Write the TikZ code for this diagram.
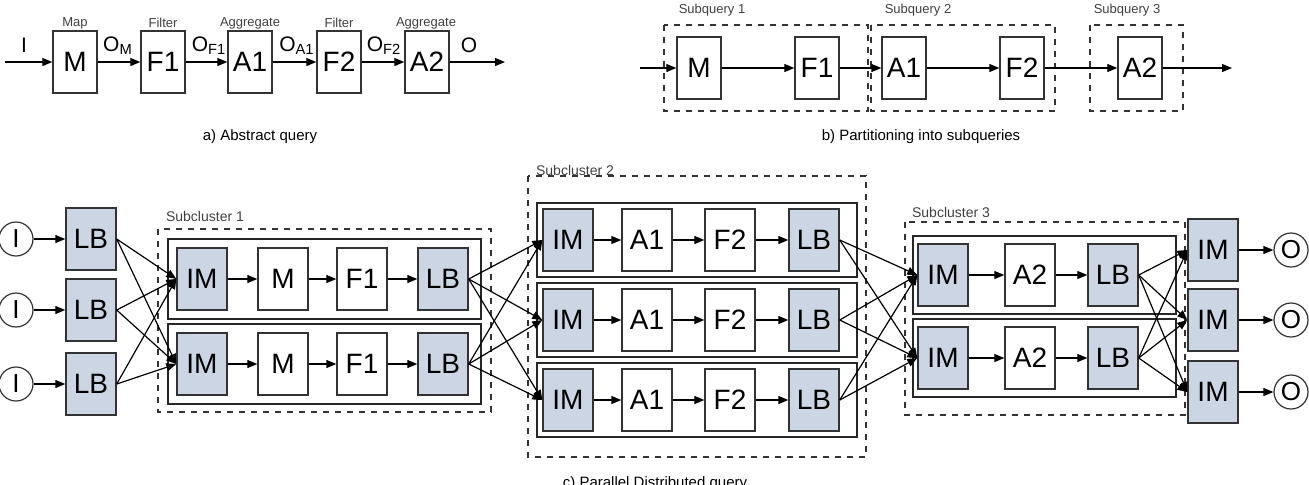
\documentclass[tikz,border=0pt]{standalone}
\usepackage{fontspec}
\setmainfont{Liberation Sans}
\usetikzlibrary{arrows.meta}
\definecolor{lbfill}{HTML}{CBD5E3}
\begin{document}
\begin{tikzpicture}[x=0.5pt,y=-0.5pt,
  op/.style={draw=black!80,line width=0.7pt,minimum width=22pt,minimum height=31pt,inner sep=0pt,font=\fontsize{14}{14}\selectfont},
  bop/.style={op,minimum width=25pt},
  blu/.style={bop,fill=lbfill},
  circ/.style={circle,draw=black!80,line width=0.6pt,minimum size=17pt,inner sep=0pt,font=\fontsize{13}{13}\selectfont},
  ar/.style={-{Triangle[length=5pt,width=4pt]},line width=0.6pt},
  lab/.style={font=\fontsize{6.5}{7}\selectfont,text=black!75},
  sub/.style={font=\fontsize{10.5}{11}\selectfont,inner sep=0pt},
  dbox/.style={draw=black!80,dashed,line width=0.6pt},
  sbox/.style={draw=black!85,line width=0.8pt},
  captxt/.style={font=\fontsize{7.5}{8}\selectfont}]
\useasboundingbox (0,0) rectangle (1309,484);
% ---------- a)
\coordinate (ain) at (5,62);
\node[op] (aM) at (75,62) {M};
\node[op] (aF1) at (163,62) {F1};
\node[op] (aA1) at (250,62) {A1};
\node[op] (aF2) at (339,62) {F2};
\node[op] (aA2) at (427,62) {A2};
\coordinate (aout) at (505,62);
\draw[ar] (ain)--(aM); \draw[ar] (aM)--(aF1); \draw[ar] (aF1)--(aA1);
\draw[ar] (aA1)--(aF2); \draw[ar] (aF2)--(aA2); \draw[ar] (aA2)--(aout);
\node[lab] (l1) at (75,23) {Map};
\node[lab] (l2) at (163,23) {Filter};
\node[lab] (l3) at (250,23) {Aggregate};
\node[lab] (l4) at (339,23) {Filter};
\node[lab] (l5) at (426,23) {Aggregate};
\node[sub] (tI) at (24,45) {I};
\node[sub] (tOM) at (118,46) {O\textsubscript{M}};
\node[sub] (tOF1) at (209,46) {O\textsubscript{F1}};
\node[sub] (tOA1) at (297,46) {O\textsubscript{A1}};
\node[sub] (tOF2) at (384,46) {O\textsubscript{F2}};
\node[sub] (tO) at (469,45) {O};
\node[captxt] (capa) at (260,137) {a) Abstract query};
% ---------- b)
\draw[dbox] (664,25) rectangle (868,111);
\draw[dbox] (871,25) rectangle (1055,111);
\draw[dbox] (1090,25) rectangle (1183,111);
\node[lab] (s1) at (712,10) {Subquery 1};
\node[lab] (s2) at (918,10) {Subquery 2};
\node[lab] (s3) at (1127,10) {Subquery 3};
\coordinate (bin) at (640,68);
\node[op] (bM) at (699,68) {M};
\node[op] (bF1) at (817,68) {F1};
\node[op] (bA1) at (904,68) {A1};
\node[op] (bF2) at (1022,68) {F2};
\node[op] (bA2) at (1140,68) {A2};
\coordinate (bout) at (1232,68);
\draw[ar] (bin)--(bM); \draw[ar] (bM)--(bF1); \draw[ar] (bF1)--(bA1);
\draw[ar] (bA1)--(bF2); \draw[ar] (bF2)--(bA2); \draw[ar] (bA2)--(bout);
\node[captxt] (capb) at (921,137) {b) Partitioning into subqueries};
% ---------- c)
\foreach \i/\y in {1/239,2/310,3/384}{
  \node[circ] (I\i) at (16,\y) {I};
  \node[blu] (L\i) at (91,\y) {LB};
  \draw[ar] (I\i)--(L\i);
}
% subcluster 1
\draw[dbox] (158,229) rectangle (491,412);
\node[lab,font=\fontsize{7}{7}\selectfont] (sc1) at (205,216) {Subcluster 1};
\foreach \r/\y in {1/279,2/364}{
  \draw[sbox] (168,\y-40) rectangle (481,\y+40);
  \node[blu] (aIM\r) at (202,\y) {IM};
  \node[bop] (aM\r) at (283,\y) {M};
  \node[bop] (aF\r) at (362,\y) {F1};
  \node[blu] (aLB\r) at (443,\y) {LB};
  \draw[ar] (aIM\r)--(aM\r); \draw[ar] (aM\r)--(aF\r); \draw[ar] (aF\r)--(aLB\r);
}
% subcluster 2
\draw[dbox] (528,176) rectangle (866,457);
\node[lab,font=\fontsize{7}{7}\selectfont] (sc2) at (575,170) {Subcluster 2};
\foreach \r/\y in {1/240,2/320,3/400}{
  \draw[sbox] (537,\y-37) rectangle (857,\y+37);
  \node[blu] (bIM\r) at (568,\y) {IM};
  \node[bop] (bA\r) at (647,\y) {A1};
  \node[bop] (bF\r) at (730,\y) {F2};
  \node[blu] (bLB\r) at (814,\y) {LB};
  \draw[ar] (bIM\r)--(bA\r); \draw[ar] (bA\r)--(bF\r); \draw[ar] (bF\r)--(bLB\r);
}
% subcluster 3
\draw[dbox] (905,222) rectangle (1185,415);
\node[lab,font=\fontsize{7}{7}\selectfont] (sc3) at (951,212) {Subcluster 3};
\foreach \r/\y in {1/275,2/358}{
  \draw[sbox] (913,\y-39) rectangle (1176,\y+39);
  \node[blu] (cIM\r) at (943,\y) {IM};
  \node[bop] (cA\r) at (1030,\y) {A2};
  \node[blu] (cLB\r) at (1113,\y) {LB};
  \draw[ar] (cIM\r)--(cA\r); \draw[ar] (cA\r)--(cLB\r);
}
% outputs
\foreach \i/\y in {1/250,2/320,3/392}{
  \node[blu] (oIM\i) at (1213,\y) {IM};
  \node[circ] (O\i) at (1291,\y) {O};
  \draw[ar] (oIM\i)--(O\i);
}
% crossings
\foreach \i in {1,2,3}{\foreach \j in {1,2}{\draw[ar] (L\i.east)--(aIM\j.west);}}
\foreach \i in {1,2}{\foreach \j in {1,2,3}{\draw[ar] (aLB\i.east)--(bIM\j.west);}}
\foreach \i in {1,2,3}{\foreach \j in {1,2}{\draw[ar] (bLB\i.east)--(cIM\j.west);}}
\foreach \i in {1,2}{\foreach \j in {1,2,3}{\draw[ar] (cLB\i.east)--(oIM\j.west);}}
\node[captxt] (capc) at (655,484) {c) Parallel Distributed query};
\end{tikzpicture}
\end{document}
